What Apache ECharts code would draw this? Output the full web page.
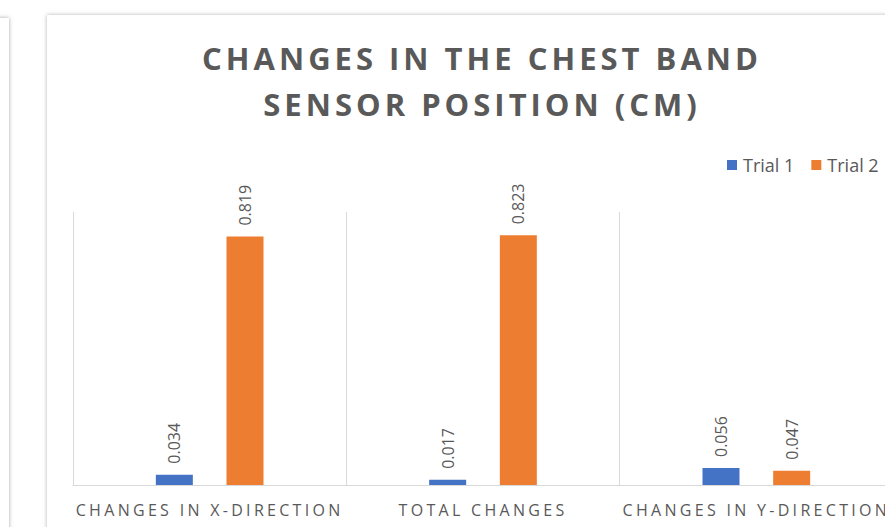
<!DOCTYPE html>
<html>
<head>
<meta charset="utf-8">
<script src="https://cdn.jsdelivr.net/npm/echarts@6/dist/echarts.min.js"></script>
<style>
  html, body { margin: 0; padding: 0; width: 885px; height: 527px; overflow: hidden; background: #fff; }
  .side { position: absolute; left: -40px; top: 18px; width: 49px; height: 560px; background: #fff; box-shadow: 0 0 4px rgba(0,0,0,0.35); }
  .card { position: absolute; left: 47px; top: 15px; width: 900px; height: 560px; background: #fff; box-shadow: 0 0 4px rgba(0,0,0,0.3); }
  #chart { position: absolute; left: 47px; top: 15px; width: 870px; height: 520px; }
</style>
</head>
<body>
<div class="side"></div>
<div class="card"></div>
<div id="chart"></div>
<script>
  // data
  const categories = ['CHANGES IN X-DIRECTION', 'TOTAL CHANGES', 'CHANGES IN Y-DIRECTION']
  const trial1 = [0.034, 0.017, 0.056]
  const trial2 = [0.819, 0.823, 0.047]
  const titleLines = ['CHANGES IN THE CHEST BAND', 'SENSOR POSITION (CM)']

  const grey = '#595959'
  const font = 'Open Sans'

  let mycharts = echarts.init(document.getElementById('chart'), null, { renderer: 'svg' })

  let valueLabel = {
    show: true,
    position: 'top',
    rotate: 90,
    align: 'left',
    verticalAlign: 'middle',
    distance: 11,
    color: grey,
    fontFamily: font,
    fontSize: 16,
    formatter: p => p.value.toFixed(3)
  }

  let option = {
    animation: false,
    title: {
      text: titleLines.join('\n'),
      left: 'center',
      top: 20,
      padding: 0,
      textStyle: {
        color: grey,
        fontFamily: font,
        fontWeight: 'bold',
        fontSize: 31,
        lineHeight: 46
      }
    },
    legend: {
      left: 680,
      top: 141,
      padding: 0,
      itemWidth: 10,
      itemHeight: 10,
      itemGap: 17,
      icon: 'rect',
      textStyle: { color: grey, fontFamily: font, fontSize: 18, padding: [0, 0, 0, 1] },
      data: ['Trial 1', 'Trial 2']
    },
    grid: { left: 26, right: 24, top: 197, bottom: 50 },
    xAxis: {
      type: 'category',
      data: categories,
      axisLine: { lineStyle: { color: '#d9d9d9', width: 1 } },
      axisTick: { show: false },
      splitLine: { show: true, lineStyle: { color: '#d9d9d9', width: 1 } },
      axisLabel: { color: grey, fontFamily: font, fontSize: 16, margin: 17, interval: 0 }
    },
    yAxis: {
      type: 'value',
      min: 0,
      max: 0.9,
      show: false,
      splitLine: { show: false }
    },
    series: [
      {
        name: 'Trial 1',
        type: 'bar',
        data: trial1,
        barWidth: 37,
        barGap: '91%',
        itemStyle: { color: '#4472C4' },
        label: valueLabel
      },
      {
        name: 'Trial 2',
        type: 'bar',
        data: trial2,
        barWidth: 37,
        itemStyle: { color: '#ED7D31' },
        label: valueLabel
      }
    ]
  }
  mycharts.setOption(option)

  // Excel style letter spacing on title and category labels
  function spaceText(){
    let texts = document.querySelectorAll('#chart svg text')
    texts.forEach(t => {
      let s = t.textContent
      if (titleLines.indexOf(s) >= 0) t.style.letterSpacing = '4px'
      else if (categories.indexOf(s) >= 0) t.style.letterSpacing = '3.3px'
    })
  }
  mycharts.getZr().refreshImmediately()
  spaceText()
  mycharts.on('finished', spaceText)
</script>
</body>
</html>
